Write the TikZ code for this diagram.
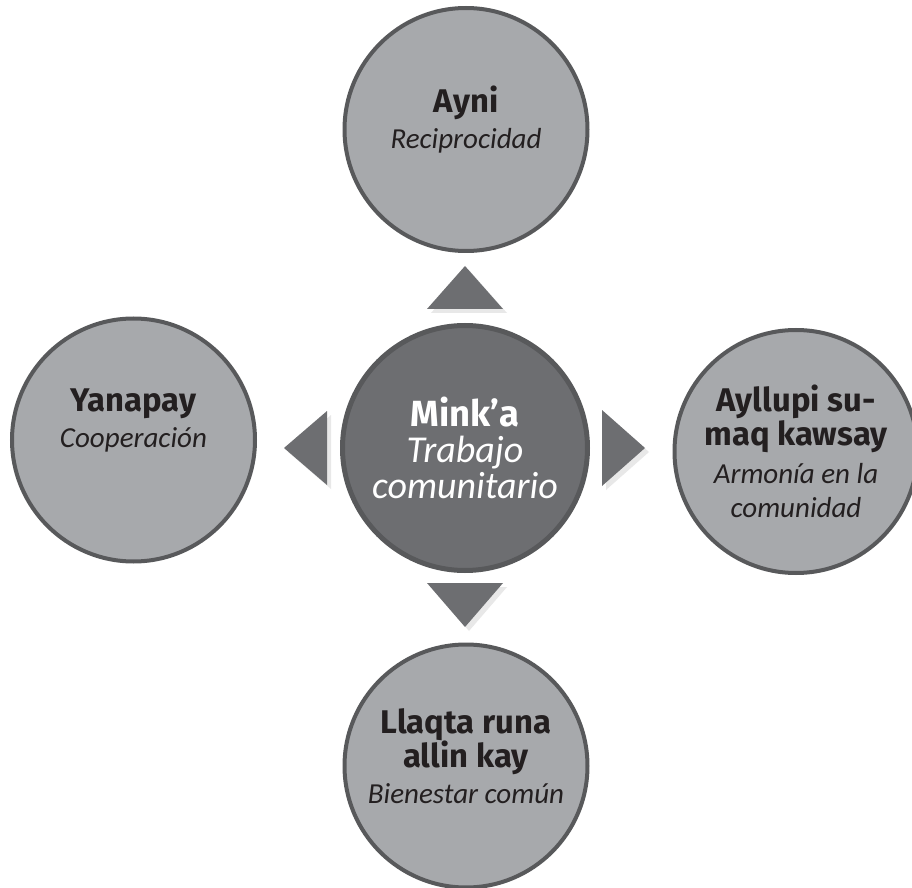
\documentclass[tikz,border=0pt]{standalone}
\usepackage{fontspec}
\setmainfont{Fira Sans}
\newfontface\lightit{Carlito Italic}
\usepackage{xcolor}
\usetikzlibrary{shadows}
\definecolor{circlefill}{HTML}{A7A9AC}
\definecolor{circleline}{HTML}{58595B}
\definecolor{centerfill}{HTML}{6D6E71}
\definecolor{textdark}{HTML}{231F20}
\tikzstyle{outercircle} = [circle, draw=circleline, fill=circlefill,
    line width=2pt, minimum size=121.5pt, inner sep=0pt]
\tikzstyle{centercircle} = [circle, draw=circleline, fill=centerfill,
    line width=2.5pt, minimum size=122.5pt, inner sep=0pt]
\tikzstyle{arrowtri} = [fill=centerfill,
    drop shadow={shadow xshift=2pt, shadow yshift=-2pt, opacity=0.18}]
\tikzstyle{outertext} = [align=center, text=textdark,
    font=\fontsize{16.4}{17}\selectfont]
\tikzstyle{centertext} = [align=center, text=white,
    font=\fontsize{18.2}{18}\selectfont]
\newcommand{\lit}[1]{{\fontsize{14.5}{16}\selectfont\lightit #1}}
\newcommand{\bigit}[1]{{\fontsize{19}{18}\selectfont\lightit #1}}

\begin{document}
\begin{tikzpicture}[x=0.5pt, y=-0.5pt]
\useasboundingbox (0,0) rectangle (912,888);
\node [centercircle] (minka) at (465,448) {};
\node [outercircle] (ayni) at (466,129.5) {};
\node [outercircle] (yanapay) at (133.5,440) {};
\node [outercircle] (ayllupi) at (796,451.5) {};
\node [outercircle] (llaqta) at (466,766) {};
\fill [arrowtri, shift={(minka.center)}] (0,-182) -- (-38,-139) -- (38,-139) -- cycle;
\fill [arrowtri, shift={(minka.center)}] (0,179) -- (-38,135) -- (38,135) -- cycle;
\fill [arrowtri, shift={(minka.center)}] (-181,0) -- (-138,-37) -- (-138,37) -- cycle;
\fill [arrowtri, shift={(minka.center)}] (180,0) -- (137,-38) -- (137,38) -- cycle;
\node [centertext] (minka-t) at (minka.center) {\textbf{Mink’a}\\\bigit{Trabajo}\\\bigit{comunitario}};
\node [outertext] (ayni-t) at ([yshift=4.75pt]ayni.center) {\textbf{Ayni}\\[1pt]\lit{Reciprocidad}};
\node [outertext] (yanapay-t) at ([yshift=10pt]yanapay.center) {\textbf{Yanapay}\\[1pt]\lit{Cooperación}};
\node [outertext] (ayllupi-t) at (ayllupi.center) {\textbf{Ayllupi su-}\\\textbf{maq kawsay}\\[2pt]\lit{Armonía en la}\\\lit{comunidad}};
\node [outertext] (llaqta-t) at ([yshift=5pt]llaqta.center) {\textbf{Llaqta runa}\\\textbf{allin kay}\\[1pt]\lit{Bienestar común}};
\end{tikzpicture}
\end{document}
